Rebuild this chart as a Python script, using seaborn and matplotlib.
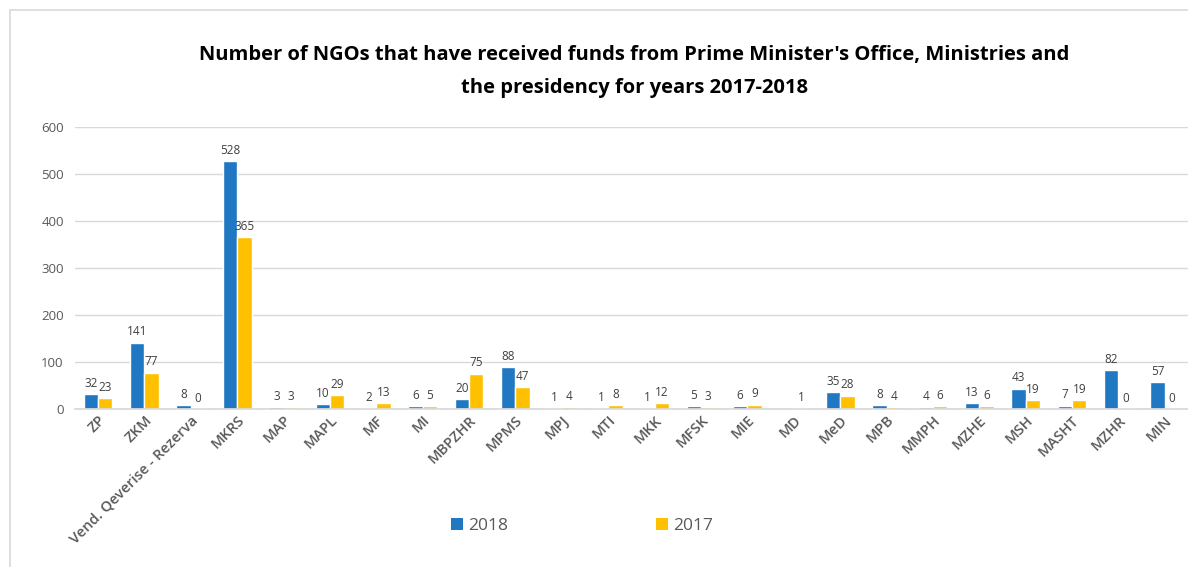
import numpy as np
import pandas as pd
import matplotlib
matplotlib.use("Agg")
import matplotlib.pyplot as plt
import seaborn as sns
from matplotlib.patches import Rectangle, Patch

categories = ["ZP", "ZKM", "Vend. Qeverise - Rezerva", "MKRS", "MAP", "MAPL", "MF", "MI",
              "MBPZHR", "MPMS", "MPJ", "MTI", "MKK", "MFSK", "MIE", "MD", "MeD", "MPB",
              "MMPH", "MZHE", "MSH", "MASHT", "MZHR", "MIN"]
values_2018 = [32, 141, 8, 528, 3, 10, 2, 6, 20, 88, 1, 1, 1, 5, 6, np.nan, 35, 8, 4, 13, 43, 7, 82, 57]
values_2017 = [23, 77, 0, 365, 3, 29, 13, 5, 75, 47, 4, 8, 12, 3, 9, 1, 28, 4, 6, 6, 19, 19, 0, 0]
series_names = ["2018", "2017"]
colors = ["#1F78C1", "#FFC000"]

df = pd.DataFrame({
    "category": categories * 2,
    "year": [series_names[0]] * len(categories) + [series_names[1]] * len(categories),
    "value": values_2018 + values_2017,
})

sns.set_theme(style="white")
plt.rcParams['font.family'] = ['Open Sans', 'DejaVu Sans']

fig = plt.figure(figsize=(11.88, 5.67), dpi=100)
ax = fig.add_axes([0.063, 0.279, 0.937, 0.497])

# card border (top and left edges visible)
fig.patches.append(Rectangle((10 / 1188, -0.05), 1.0, 1.05 - 10 / 567, transform=fig.transFigure,
                             fill=False, edgecolor="#D9D9D9", linewidth=1.2, zorder=0))

sns.barplot(data=df, x="category", y="value", hue="year", hue_order=series_names,
            palette=colors, width=0.62, ax=ax, legend=False, errorbar=None, saturation=1)

for cont in ax.containers:
    ax.bar_label(cont, labels=["" if np.isnan(v) else f"{int(v)}" for v in cont.datavalues],
                 padding=3, fontsize=8.5, color="#404040")

ax.set_ylim(0, 600)
ax.set_yticks(range(0, 601, 100))
ax.set_xlim(-0.5, len(categories) - 0.5)
ax.grid(axis="y", color="#D9D9D9", linewidth=1)
ax.set_axisbelow(True)
for s in ["left", "right", "top"]:
    ax.spines[s].set_visible(False)
ax.spines["bottom"].set_color("#D9D9D9")
ax.tick_params(axis="y", length=0, labelsize=9.5, labelcolor="#595959", pad=8)
ax.tick_params(axis="x", length=0, labelsize=10.5, labelcolor="#595959", pad=3)
ax.set_xlabel("")
ax.set_ylabel("")
plt.setp(ax.get_xticklabels(), rotation=45, ha="right", rotation_mode="anchor", fontweight="semibold")

fig.text(0.534, 0.903, "Number of NGOs that have received funds from Prime Minister's Office, Ministries and",
         ha="center", va="center", fontsize=14.5, fontweight="bold", color="#000000")
fig.text(0.534, 0.845, "the presidency for years 2017-2018",
         ha="center", va="center", fontsize=14.5, fontweight="bold", color="#000000")

handles = [Patch(facecolor=c, edgecolor="none") for c in colors]
fig.legend(handles, series_names, loc="center", bbox_to_anchor=(0.49, 0.073), ncol=2,
           frameon=False, fontsize=12.5, labelcolor="#595959", handlelength=0.7, handleheight=0.7,
           handletextpad=0.3, columnspacing=8.5)

fig.savefig("out.png", dpi=100)
